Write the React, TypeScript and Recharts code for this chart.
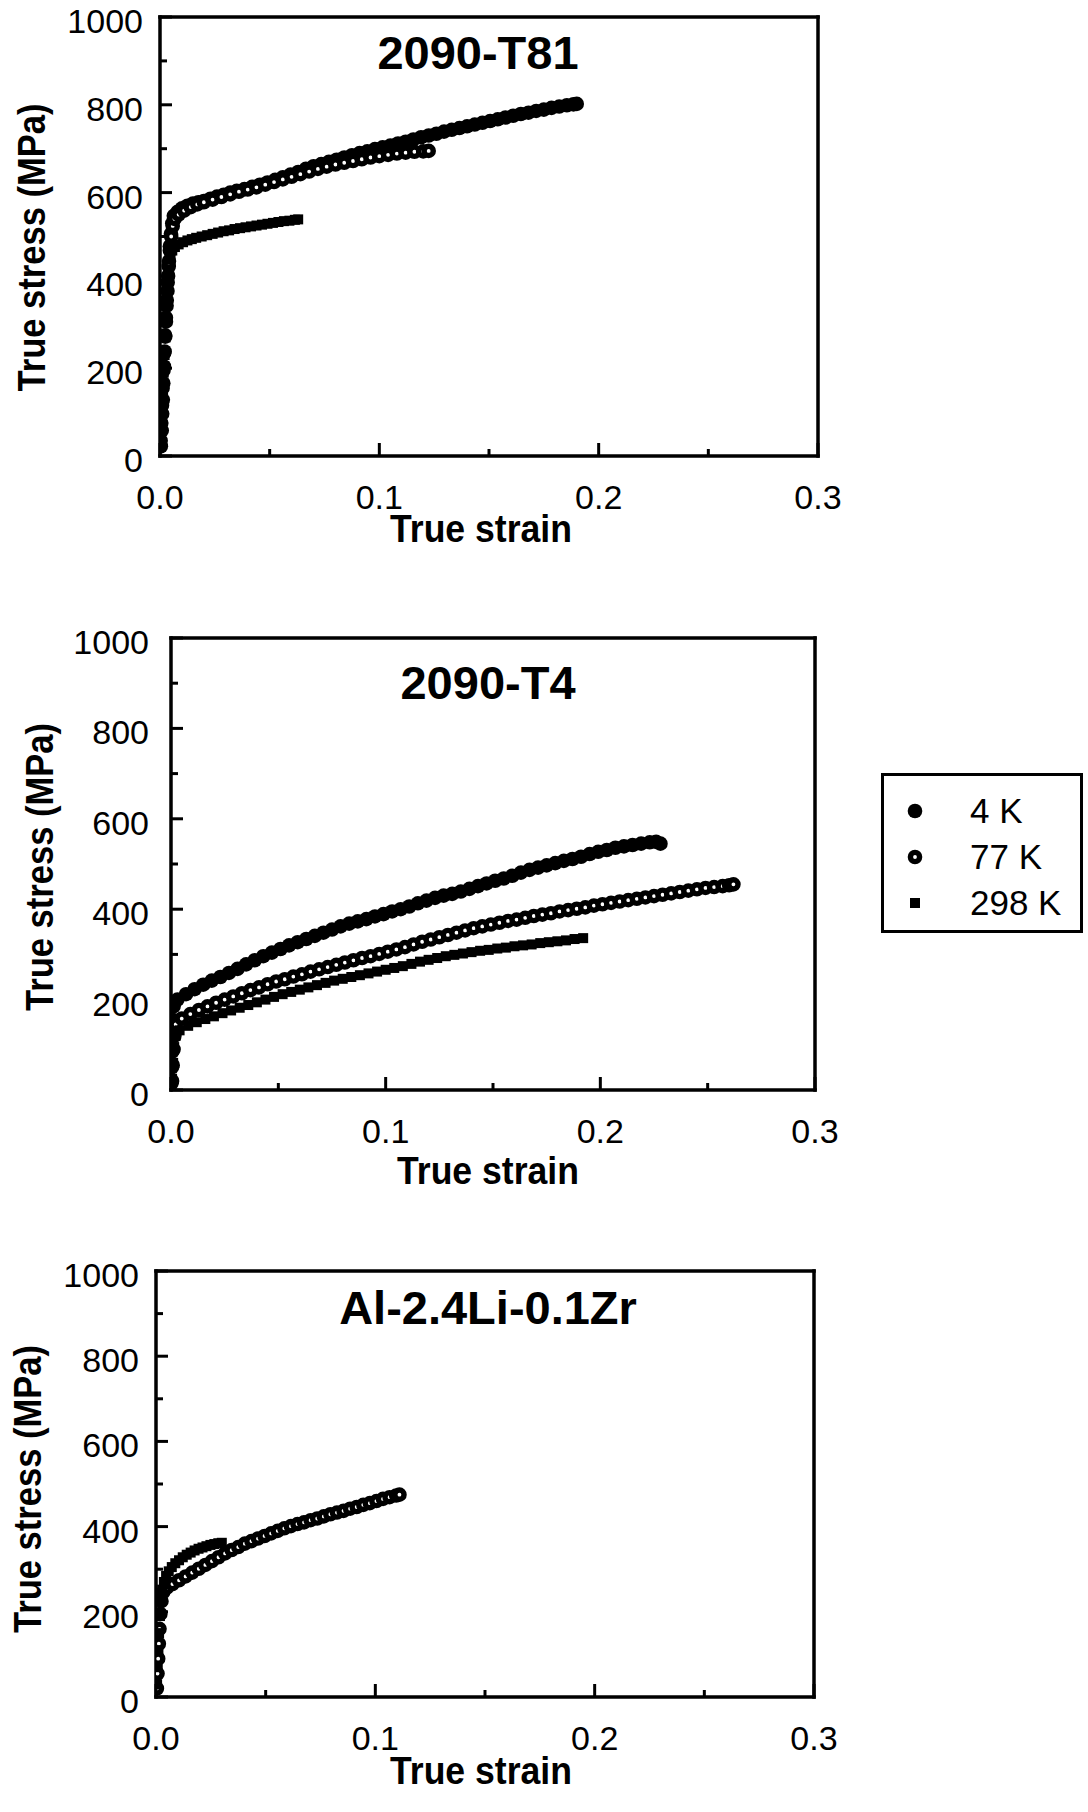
import React from 'react';
import { ScatterChart, Scatter, XAxis, YAxis, ReferenceLine, Legend } from 'recharts';

const FONT = '"Liberation Sans", Arial, Helvetica, sans-serif';

const strainTicks = [0, 0.05, 0.1, 0.15, 0.2, 0.25, 0.3];
const stressTicks = [0, 100, 200, 300, 400, 500, 600, 700, 800, 900, 1000];

type Pt = [number, number];

// 2090-T81 (strain, stress MPa)
const t81_4K: Pt[] = [
  [0.0004, 22], [0.0008, 58], [0.001, 96], [0.0013, 128], [0.0015, 166], [0.0018, 204], [0.0021, 238],
  [0.0024, 272], [0.0027, 306], [0.003, 342], [0.0034, 376], [0.0037, 410], [0.0041, 444], [0.0045, 478],
  [0.005, 506], [0.0056, 530], [0.0063, 547], [0.008, 556], [0.01, 564], [0.0125, 570], [0.015, 575],
  [0.0175, 578], [0.02, 581], [0.023, 586], [0.026, 591], [0.029, 595], [0.032, 600], [0.035, 604],
  [0.0385, 608], [0.042, 613], [0.0455, 618], [0.049, 623], [0.0525, 629], [0.056, 635], [0.0595, 641],
  [0.063, 647], [0.0665, 654], [0.07, 660], [0.0735, 665], [0.077, 670], [0.0805, 675], [0.084, 680],
  [0.0875, 685], [0.091, 690], [0.0945, 694], [0.098, 699], [0.1015, 703], [0.105, 707], [0.1085, 712],
  [0.112, 716], [0.1155, 721], [0.119, 726], [0.1225, 730], [0.126, 734], [0.1295, 739], [0.133, 743],
  [0.1365, 747], [0.14, 751], [0.1435, 755], [0.147, 759], [0.1505, 763], [0.154, 767], [0.1575, 771],
  [0.161, 775], [0.1645, 779], [0.168, 782], [0.1715, 786], [0.175, 789], [0.1785, 793], [0.182, 796],
  [0.1855, 799], [0.1885, 801], [0.19, 802],
];
const t81_77K: Pt[] = [
  [0.0003, 35], [0.0006, 75], [0.0009, 115], [0.0012, 155], [0.0016, 195], [0.0019, 235], [0.0023, 275],
  [0.0027, 315], [0.0031, 355], [0.0035, 395], [0.004, 432], [0.0045, 468], [0.0051, 500], [0.0058, 524],
  [0.0066, 540], [0.0085, 550], [0.011, 559], [0.014, 567], [0.017, 573], [0.02, 578], [0.024, 584],
  [0.028, 590], [0.032, 596], [0.036, 602], [0.04, 607], [0.044, 612], [0.048, 618], [0.052, 624],
  [0.056, 630], [0.06, 636], [0.064, 642], [0.068, 648], [0.072, 654], [0.076, 659], [0.08, 664],
  [0.084, 668], [0.088, 672], [0.092, 676], [0.096, 680], [0.1, 683], [0.104, 686], [0.108, 689],
  [0.112, 691], [0.116, 693], [0.12, 694], [0.1225, 695],
];
const t81_298K: Pt[] = [
  [0.0005, 30], [0.0008, 70], [0.0011, 110], [0.0014, 150], [0.0017, 190], [0.0021, 230], [0.0025, 270],
  [0.0029, 310], [0.0033, 350], [0.0037, 390], [0.0042, 425], [0.0048, 452], [0.0056, 468], [0.0068, 476],
  [0.0085, 482], [0.0105, 487], [0.0125, 491], [0.0145, 494], [0.0165, 497], [0.019, 500], [0.0215, 503],
  [0.024, 506], [0.0265, 509], [0.029, 512], [0.0315, 514], [0.034, 517], [0.0365, 519], [0.039, 521],
  [0.0415, 523], [0.044, 525], [0.0465, 527], [0.049, 529], [0.0515, 531], [0.054, 533], [0.0565, 535],
  [0.059, 536], [0.0615, 538], [0.063, 539],
];

// 2090-T4
const t4_4K: Pt[] = [
  [0.0002, 15], [0.0004, 50], [0.0006, 85], [0.0008, 120], [0.001, 155], [0.0012, 185], [0.003, 200],
  [0.007, 212], [0.011, 223], [0.015, 233], [0.019, 242], [0.023, 250], [0.027, 259], [0.031, 268],
  [0.035, 278], [0.039, 287], [0.043, 296], [0.047, 304], [0.051, 312], [0.055, 320], [0.059, 327],
  [0.063, 334], [0.067, 341], [0.071, 348], [0.075, 355], [0.079, 362], [0.083, 368], [0.087, 373],
  [0.091, 378], [0.095, 384], [0.099, 389], [0.103, 395], [0.107, 400], [0.111, 406], [0.115, 413],
  [0.119, 419], [0.123, 425], [0.127, 430], [0.131, 434], [0.135, 439], [0.139, 445], [0.143, 451],
  [0.147, 457], [0.151, 463], [0.155, 468], [0.159, 474], [0.163, 481], [0.167, 487], [0.171, 492],
  [0.175, 497], [0.179, 502], [0.183, 507], [0.187, 511], [0.191, 516], [0.195, 522], [0.199, 527],
  [0.203, 531], [0.207, 536], [0.211, 539], [0.215, 542], [0.219, 545], [0.223, 548], [0.226, 549],
  [0.228, 545],
];
const t4_77K: Pt[] = [
  [0.0005, 20], [0.0008, 55], [0.0012, 90], [0.0016, 120], [0.0022, 145], [0.005, 158], [0.009, 168],
  [0.013, 177], [0.017, 185], [0.021, 193], [0.025, 200], [0.029, 207], [0.033, 214], [0.037, 221],
  [0.041, 227], [0.045, 234], [0.049, 240], [0.053, 245], [0.057, 251], [0.061, 256], [0.065, 262],
  [0.069, 267], [0.073, 272], [0.077, 277], [0.081, 282], [0.085, 287], [0.089, 292], [0.093, 296],
  [0.097, 301], [0.101, 306], [0.105, 311], [0.109, 316], [0.113, 322], [0.117, 328], [0.121, 333],
  [0.125, 338], [0.129, 343], [0.133, 348], [0.137, 353], [0.141, 358], [0.145, 362], [0.149, 366],
  [0.153, 370], [0.157, 374], [0.161, 377], [0.165, 381], [0.169, 385], [0.173, 388], [0.177, 391],
  [0.181, 395], [0.185, 398], [0.189, 401], [0.193, 404], [0.197, 408], [0.201, 411], [0.205, 414],
  [0.209, 417], [0.213, 420], [0.217, 423], [0.221, 426], [0.225, 429], [0.229, 432], [0.233, 435],
  [0.237, 438], [0.241, 441], [0.245, 444], [0.249, 447], [0.253, 449], [0.257, 451], [0.26, 453],
  [0.262, 455],
];
const t4_298K: Pt[] = [
  [0.0005, 25], [0.001, 60], [0.0015, 95], [0.0022, 120], [0.004, 132], [0.008, 142], [0.012, 150],
  [0.016, 157], [0.02, 163], [0.024, 170], [0.028, 176], [0.032, 182], [0.036, 188], [0.04, 194],
  [0.044, 200], [0.048, 206], [0.052, 212], [0.056, 217], [0.06, 222], [0.064, 227], [0.068, 232],
  [0.072, 237], [0.076, 242], [0.08, 246], [0.084, 250], [0.088, 254], [0.092, 258], [0.096, 262],
  [0.1, 266], [0.104, 270], [0.108, 274], [0.112, 279], [0.116, 284], [0.12, 288], [0.124, 292],
  [0.128, 296], [0.132, 299], [0.136, 302], [0.14, 305], [0.144, 308], [0.148, 310], [0.152, 313],
  [0.156, 315], [0.16, 318], [0.164, 320], [0.168, 322], [0.172, 325], [0.176, 327], [0.18, 329],
  [0.184, 331], [0.188, 334], [0.192, 336],
];

// Al-2.4Li-0.1Zr
const alli_77K: Pt[] = [
  [0.0004, 20], [0.0007, 55], [0.001, 90], [0.0013, 125], [0.0016, 160], [0.002, 195], [0.0025, 225],
  [0.0033, 246], [0.005, 257], [0.0075, 265], [0.0105, 274], [0.0135, 283], [0.0165, 292], [0.0195, 301],
  [0.0225, 310], [0.0255, 319], [0.0285, 328], [0.0315, 337], [0.0345, 345], [0.0375, 352], [0.0405, 360],
  [0.0435, 366], [0.0465, 372], [0.0495, 378], [0.0525, 384], [0.0555, 390], [0.0585, 396], [0.0615, 401],
  [0.0645, 406], [0.0675, 410], [0.0705, 415], [0.0735, 419], [0.0765, 424], [0.0795, 429], [0.0825, 433],
  [0.0855, 437], [0.0885, 442], [0.0915, 446], [0.0945, 451], [0.0975, 455], [0.1005, 460], [0.1035, 465],
  [0.1065, 469], [0.1095, 473], [0.111, 475],
];
const alli_298K: Pt[] = [
  [0.0005, 30], [0.0008, 70], [0.0011, 110], [0.0014, 150], [0.0018, 190], [0.0022, 225], [0.0028, 252],
  [0.0036, 270], [0.0046, 284], [0.0058, 295], [0.0072, 305], [0.0088, 314], [0.0105, 321], [0.0122, 328],
  [0.014, 334], [0.0158, 339], [0.0176, 344], [0.0194, 348], [0.0212, 351], [0.023, 354], [0.0248, 357],
  [0.0266, 359], [0.0284, 361], [0.03, 362],
];

const SERIES = [
  { key: '4K', name: '4 K' },
  { key: '77K', name: '77 K' },
  { key: '298K', name: '298 K' },
];

const PANELS = [
  {
    title: '2090-T81', top: 0, height: 580,
    plot: { l: 160, r: 818, t: 17, b: 456 },
    titleDx: -11, titleY: 52, yTitleX: 32, yTitleDy: 11, xTitleDx: -8, xTitleDy: 73, yTickGap: 17,
    data: { '4K': t81_4K, '77K': t81_77K, '298K': t81_298K } as Record<string, Pt[]>,
    legend: false,
  },
  {
    title: '2090-T4', top: 580, height: 630,
    plot: { l: 171, r: 815, t: 638, b: 1090 },
    titleDx: -5, titleY: 682, yTitleX: 40, yTitleDy: 3, xTitleDx: -5, xTitleDy: 81, yTickGap: 22,
    data: { '4K': t4_4K, '77K': t4_77K, '298K': t4_298K } as Record<string, Pt[]>,
    legend: true,
  },
  {
    title: 'Al-2.4Li-0.1Zr', top: 1210, height: 602,
    plot: { l: 156, r: 814, t: 1271, b: 1697 },
    titleDx: 3, titleY: 1307, yTitleX: 28, yTitleDy: 5, xTitleDx: -4, xTitleDy: 74, yTickGap: 17,
    data: { '77K': alli_77K, '298K': alli_298K } as Record<string, Pt[]>,
    legend: false,
  },
];

function Marker({ kind, cx, cy }: { kind: string; cx: number; cy: number }) {
  if (kind === '4K') return <circle cx={cx} cy={cy} r={7.3} fill="#000" />;
  if (kind === '77K') return <circle cx={cx} cy={cy} r={4.6} fill="#fff" stroke="#000" strokeWidth={5.4} />;
  return <rect x={cx - 5} y={cy - 5} width={10} height={10} fill="#000" />;
}

const axisLine = { stroke: '#000', strokeWidth: 3.5, strokeLinecap: 'square' as const };

function renderLegend(props: any) {
  const order = (v: string) => SERIES.findIndex((s) => s.name === v);
  const payload = [...(props.payload || [])].sort((a: any, b: any) => order(a.value) - order(b.value));
  return (
    <div
      style={{
        border: '3px solid #000', width: 202, height: 160, boxSizing: 'border-box', background: '#fff',
        paddingTop: 12, fontFamily: FONT, fontSize: 35, color: '#000',
      }}
    >
      {payload.map((item: any) => {
        const s = SERIES.find((x) => x.name === item.value);
        return (
          <div key={item.value} style={{ display: 'flex', alignItems: 'center', height: 46 }}>
            <svg width={62} height={20} style={{ marginRight: 24 }}>
              <Marker kind={s ? s.key : ''} cx={31} cy={10} />
            </svg>
            <span style={{ lineHeight: '46px' }}>{item.value}</span>
          </div>
        );
      })}
    </div>
  );
}

function Panel({ p }: { p: (typeof PANELS)[number] }) {
  const margin = {
    top: p.plot.t - p.top,
    left: p.plot.l - 100,
    right: 1088 - p.plot.r,
    bottom: p.top + p.height - p.plot.b - 80,
  };
  const midX = (p.plot.l + p.plot.r) / 2;
  const midY = (p.plot.t + p.plot.b) / 2 - p.top;

  const xTick = ({ x, y, payload }: any) => {
    const v = payload.value as number;
    const major = Math.round(v * 100) % 10 === 0;
    return (
      <g>
        <line x1={x} x2={x} y1={y} y2={y - (major ? 13 : 7)} stroke="#000" strokeWidth={3} />
        {major && (
          <text x={x} y={y + 41} textAnchor="middle" dominantBaseline="central" fontSize={34} fontFamily={FONT} fill="#000">
            {v.toFixed(1)}
          </text>
        )}
      </g>
    );
  };
  const yTick = ({ x, y, payload }: any) => {
    const v = payload.value as number;
    const major = v % 200 === 0;
    return (
      <g>
        <line x1={x} x2={x + (major ? 12 : 7)} y1={y} y2={y} stroke="#000" strokeWidth={3} />
        {major && (
          <text x={x - p.yTickGap} y={y + 4} textAnchor="end" dominantBaseline="central" fontSize={34} fontFamily={FONT} fill="#000">
            {v}
          </text>
        )}
      </g>
    );
  };

  const xTitle = () => (
    <text x={midX + p.xTitleDx} y={p.plot.b - p.top + p.xTitleDy} textAnchor="middle" dominantBaseline="central"
      fontSize={38} fontWeight="bold" fontFamily={FONT} textLength={182} lengthAdjust="spacingAndGlyphs" fill="#000">
      True strain
    </text>
  );
  const yTitle = () => {
    const cy = midY + p.yTitleDy;
    return (
      <text x={p.yTitleX} y={cy} transform={`rotate(-90 ${p.yTitleX} ${cy})`} textAnchor="middle" dominantBaseline="central"
        fontSize={38} fontWeight="bold" fontFamily={FONT} textLength={288} lengthAdjust="spacingAndGlyphs" fill="#000">
        True stress (MPa)
      </text>
    );
  };
  const chartTitle = () => (
    <text x={midX + p.titleDx} y={p.titleY - p.top} textAnchor="middle" dominantBaseline="central"
      fontSize={47} fontWeight="bold" fontFamily={FONT} fill="#000">
      {p.title}
    </text>
  );

  return (
    <div style={{ position: 'absolute', left: 0, top: p.top }}>
      <ScatterChart width={1088} height={p.height} margin={margin}>
        <XAxis type="number" dataKey="x" domain={[0, 0.3]} ticks={strainTicks} interval={0} height={80}
          tickSize={0} tickMargin={0} tickLine={false} axisLine={axisLine} tick={xTick} label={xTitle} allowDataOverflow />
        <YAxis type="number" dataKey="y" domain={[0, 1000]} ticks={stressTicks} interval={0} width={100}
          tickSize={0} tickMargin={0} tickLine={false} axisLine={axisLine} tick={yTick} label={yTitle} allowDataOverflow />
        <ReferenceLine y={1000} stroke="#000" strokeWidth={3.5} strokeLinecap="square" label={chartTitle} />
        <ReferenceLine x={0.3} stroke="#000" strokeWidth={3.5} strokeLinecap="square" />
        {SERIES.filter((s) => p.data[s.key]).map((s) => (
          <Scatter
            key={s.key}
            name={s.name}
            data={p.data[s.key].map(([x, y]) => ({ x, y }))}
            fill="#000"
            isAnimationActive={false}
            shape={(sp: any) => <Marker kind={s.key} cx={sp.cx} cy={sp.cy} />}
          />
        ))}
        {p.legend && (
          <Legend layout="vertical" align="center" verticalAlign="middle" content={renderLegend}
            wrapperStyle={{ position: 'absolute', left: 881, top: 773 - p.top, width: 202, height: 160 }} />
        )}
      </ScatterChart>
    </div>
  );
}

export default function App() {
  return (
    <div style={{ position: 'absolute', left: 0, top: 0, width: 1088, height: 1812, background: '#fff', fontFamily: FONT }}>
      {PANELS.map((p) => (
        <Panel key={p.title} p={p} />
      ))}
    </div>
  );
}
